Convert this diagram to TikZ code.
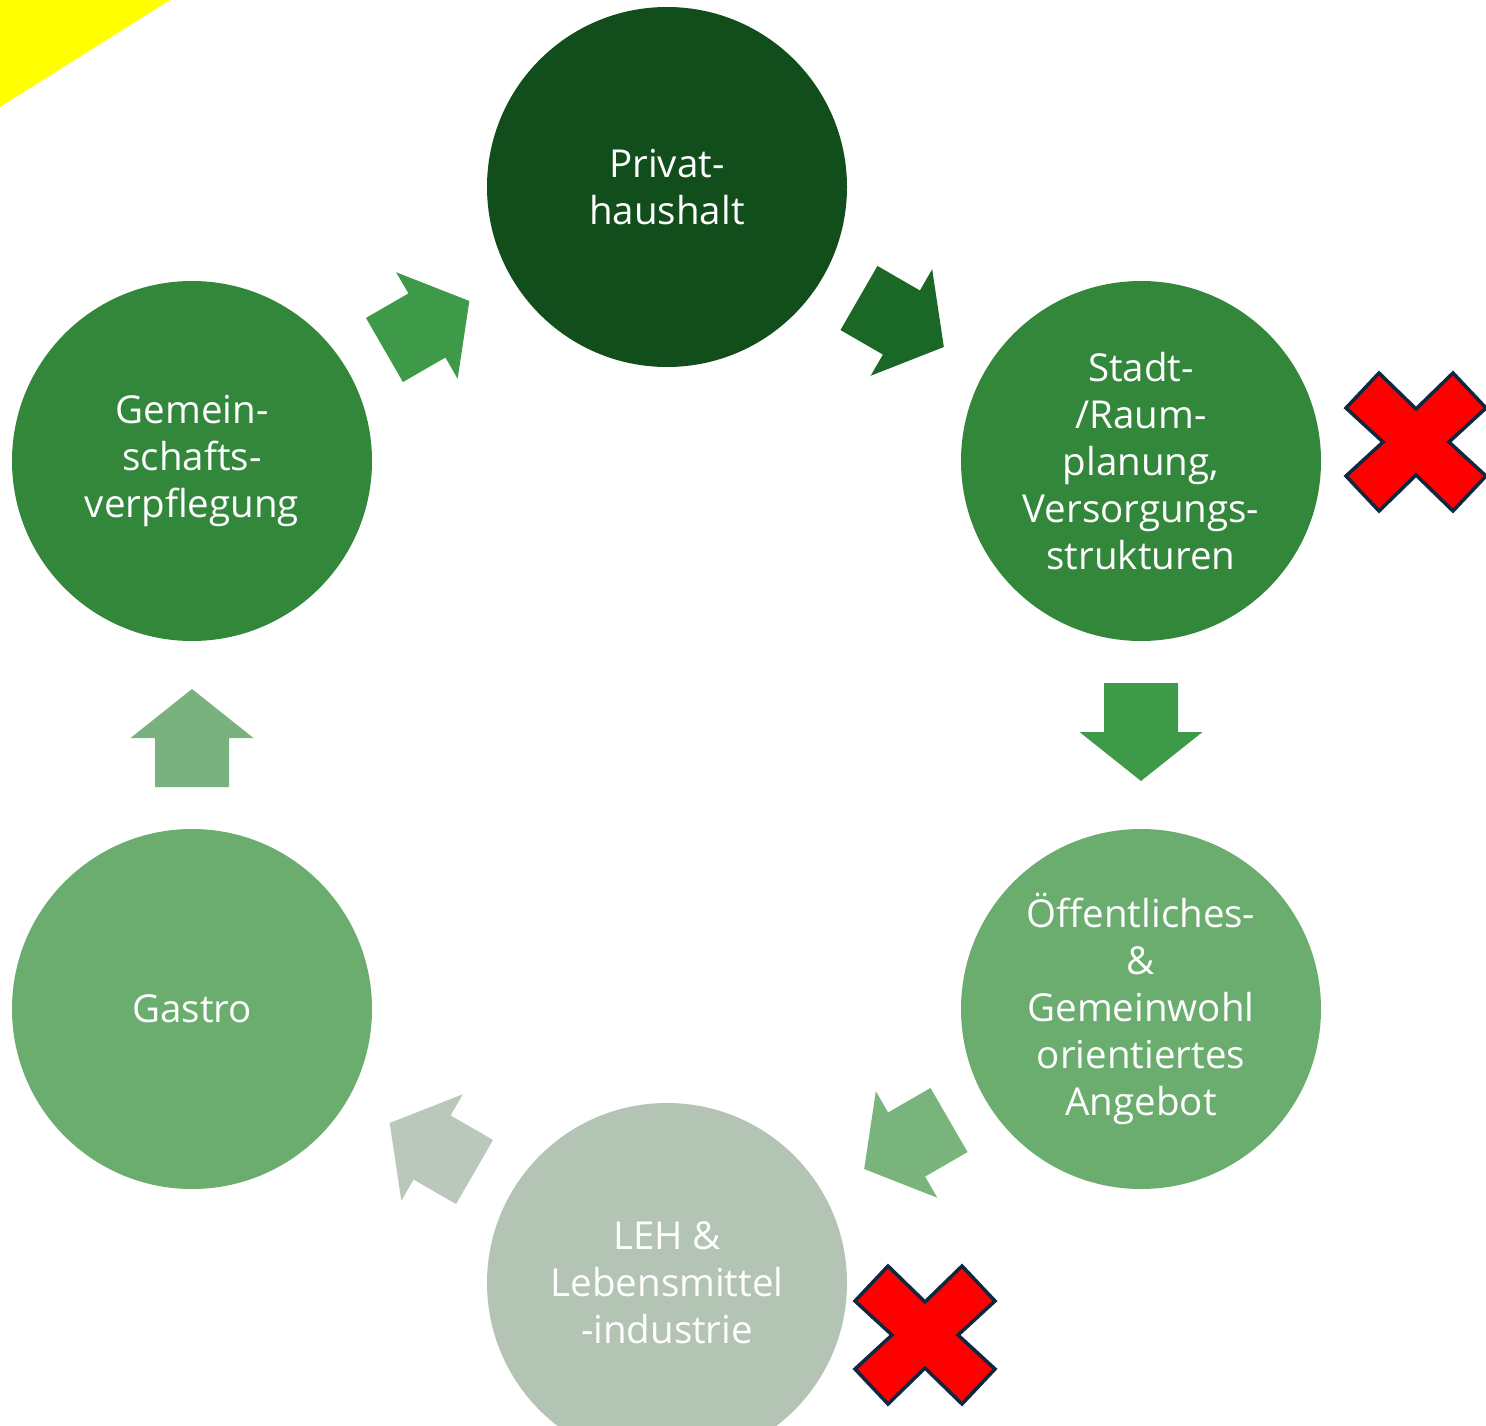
\documentclass[tikz,border=0pt]{standalone}
\usepackage{fontspec}
\setmainfont{Open Sans}
\usetikzlibrary{calc}
\definecolor{cPriv}{HTML}{114E1B}
\definecolor{cMid}{HTML}{32873B}
\definecolor{cLight}{HTML}{6BAC6F}
\definecolor{cGrey}{HTML}{B3C3B4}
\definecolor{aMid}{HTML}{3E9A48}
\definecolor{aDark}{HTML}{1B6826}
\definecolor{aLight}{HTML}{78B47C}
\definecolor{aGrey}{HTML}{BAC8BC}
\definecolor{aUp}{HTML}{7AB27F}
\definecolor{xOut}{HTML}{0E2841}
\definecolor{yel}{HTML}{FFFF00}
\tikzset{
  circ/.style={circle, minimum size=360pt, inner sep=0pt, align=center, text=white,
    font=\fontsize{38.5}{47}\selectfont},
  blockarr/.pic={\fill[pic actions] (-49,-37) -- (0,-37) -- (0,-61.5) -- (49,0) -- (0,61.5) -- (0,37) -- (-49,37) -- cycle;},
  crossmark/.pic={\filldraw[fill=red, draw=xOut, line width=3.5pt, line join=miter]
    (0,-33) -- (37,-69) -- (70,-34) -- (33,0) -- (70,34) -- (37,69) -- (0,33) -- (-37,69) -- (-70,34) -- (-33,0) -- (-70,-34) -- (-37,-69) -- cycle;}
}
\begin{document}
\begin{tikzpicture}[x=1pt,y=-1pt]
\useasboundingbox (0,0) rectangle (1486,1426);
\clip (0,0) rectangle (1486,1426);
\fill[yel] (0,0) -- (170,0) -- (0,107) -- cycle;
\node[circ, fill=cPriv] (priv) at (667,187) {Privat-\\haushalt};
\node[circ, fill=cMid] (stadt) at (1141,461) {Stadt-\\/Raum-\\planung,\\Versorgungs-\\strukturen};
\node[circ, fill=cLight] (oeff) at (1141,1009) {Öffentliches-\\\&\\Gemeinwohl\\orientiertes\\Angebot};
\node[circ, fill=cGrey] (leh) at (667,1283) {LEH \&\\Lebensmittel\\-industrie};
\node[circ, fill=cLight] (gastro) at (192,1009) {Gastro};
\node[circ, fill=cMid] (gemein) at (192,461) {Gemein-\\schafts-\\verpflegung};
\path ($($(gemein)!0.5!(priv)$)!3pt!(gemein)$) pic[fill=aMid, rotate=30] {blockarr};
\path ($($(priv)!0.5!(stadt)$)!3pt!(priv)$) pic[fill=aDark, rotate=-30] {blockarr};
\path ($($(stadt)!0.5!(oeff)$)!3pt!(stadt)$) pic[fill=aMid, rotate=-90] {blockarr};
\path ($($(oeff)!0.5!(leh)$)!3pt!(oeff)$) pic[fill=aLight, rotate=-150] {blockarr};
\path ($($(leh)!0.5!(gastro)$)!3pt!(leh)$) pic[fill=aGrey, rotate=150] {blockarr};
\path ($($(gastro)!0.5!(gemein)$)!3pt!(gastro)$) pic[fill=aUp, rotate=90] {blockarr};
\coordinate (x1) at (1416,442);
\coordinate (x2) at (925,1335);
\path (x1) pic {crossmark};
\path (x2) pic {crossmark};
\end{tikzpicture}
\end{document}
